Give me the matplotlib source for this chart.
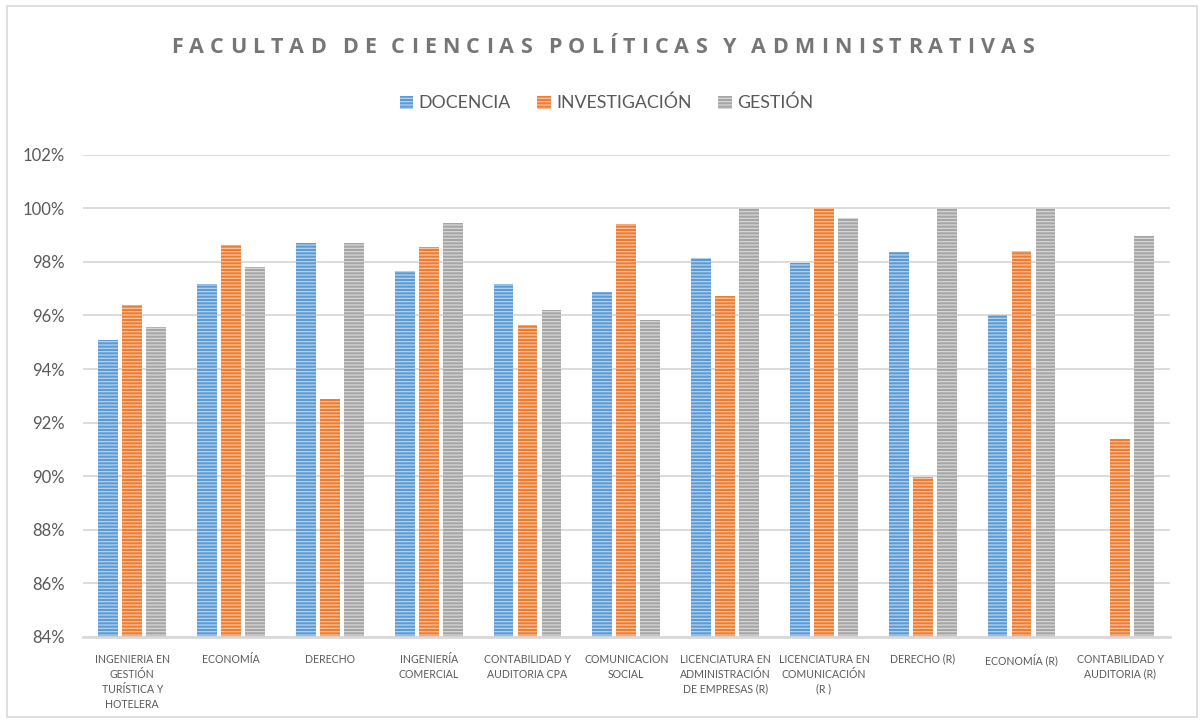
import numpy as np
import matplotlib
matplotlib.use("Agg")
import matplotlib.pyplot as plt
from matplotlib.patches import Rectangle
from matplotlib.colors import to_rgb
from matplotlib.font_manager import FontProperties

plt.rcParams['font.family'] = ['Lato', 'DejaVu Sans']
plt.rcParams['hatch.linewidth'] = 0.9

categories = [
    "INGENIERIA EN\nGESTIÓN\nTURÍSTICA Y\nHOTELERA",
    "ECONOMÍA",
    "DERECHO",
    "INGENIERÍA\nCOMERCIAL",
    "CONTABILIDAD Y\nAUDITORIA CPA",
    "COMUNICACION\nSOCIAL",
    "LICENCIATURA EN\nADMINISTRACIÓN\nDE EMPRESAS (R)",
    "LICENCIATURA EN\nCOMUNICACIÓN\n(R )",
    "DERECHO (R)",
    "ECONOMÍA (R)",
    "CONTABILIDAD Y\nAUDITORIA (R)",
]
series_names = ["DOCENCIA", "INVESTIGACIÓN", "GESTIÓN"]
docencia = [95.07, 97.16, 98.72, 97.65, 97.18, 96.87, 98.16, 97.97, 98.36, 96.0, np.nan]
investigacion = [96.40, 98.63, 92.88, 98.54, 95.65, 99.43, 96.72, 100.0, 89.97, 98.42, 91.38]
gestion = [95.58, 97.82, 98.69, 99.45, 96.19, 95.82, 100.0, 99.65, 100.0, 100.0, 98.98]
yticks = [84, 86, 88, 90, 92, 94, 96, 98, 100, 102]
title = "FACULTAD DE CIENCIAS POLÍTICAS Y ADMINISTRATIVAS"

colors = ["#5B9BD5", "#ED7D31", "#A5A5A5"]

def lighten(c, f=0.55):
    r, g, b = to_rgb(c)
    return (r + (1 - r) * f, g + (1 - g) * f, b + (1 - b) * f)

W, H = 1201, 723
fig = plt.figure(figsize=(W / 100, H / 100), dpi=100)
ax = fig.add_axes([0.069, 0.119, 0.905, 0.667])

x = np.arange(len(categories))
width = 0.2
step = 0.243
data = [docencia, investigacion, gestion]
for i, (vals, name, col) in enumerate(zip(data, series_names, colors)):
    ax.bar(x + (i - 1) * step, vals, width, color=col, edgecolor=lighten(col),
           linewidth=0, hatch='-----', label=name, zorder=3)

ax.set_ylim(84, 102)
ax.set_xlim(-0.5, len(categories) - 0.5)
ax.set_yticks(yticks)
ax.set_yticklabels([f"{v}%" for v in yticks], fontsize=12, color="#595959")
ax.set_xticks(x)
ax.set_xticklabels(categories, fontsize=7.6, color="#595959", linespacing=1.45, va='top')
ax.tick_params(axis='both', length=0)
ax.tick_params(axis='x', pad=12)
ax.tick_params(axis='y', pad=13)
ax.grid(axis='y', color="#D9D9D9", linewidth=1.3, zorder=0)
for s in ['top', 'right', 'left']:
    ax.spines[s].set_visible(False)
ax.spines['bottom'].set_color("#D9D9D9")
ax.spines['bottom'].set_linewidth(2)
ax.spines['bottom'].set_zorder(4)

leg = fig.legend(loc='center', bbox_to_anchor=(0.5 + 6 / W, 1 - 103 / H), ncol=3, frameon=False,
                 fontsize=12.8, handlelength=0.75, handleheight=0.75, handletextpad=0.3,
                 columnspacing=1.5, labelcolor="#595959")

# letter-spaced title
renderer = fig.canvas.get_renderer()
fp = FontProperties(family=['Open Sans', 'DejaVu Sans'], weight='bold', size=15.5)
space_w = 3.0
widths = []
for ch in title:
    if ch == " ":
        widths.append(space_w)
    else:
        widths.append(renderer.get_text_width_height_descent(ch, fp, ismath=False)[0])
target = 863.0
tracking = (target - sum(widths)) / (len(title) - 1)
xpos = 171.0
ty = 1 - 45 / H
for ch, w in zip(title, widths):
    if ch != " ":
        fig.text(xpos / W, ty, ch, ha='left', va='center_baseline', fontproperties=fp,
                 color="#767676")
    xpos += w + tracking

fig.patches.append(Rectangle((7 / W, 6 / H), 1190 / W, 711 / H,
                             transform=fig.transFigure, fill=False,
                             edgecolor="#D9D9D9", linewidth=1.2))

fig.savefig("out.png", dpi=100)
